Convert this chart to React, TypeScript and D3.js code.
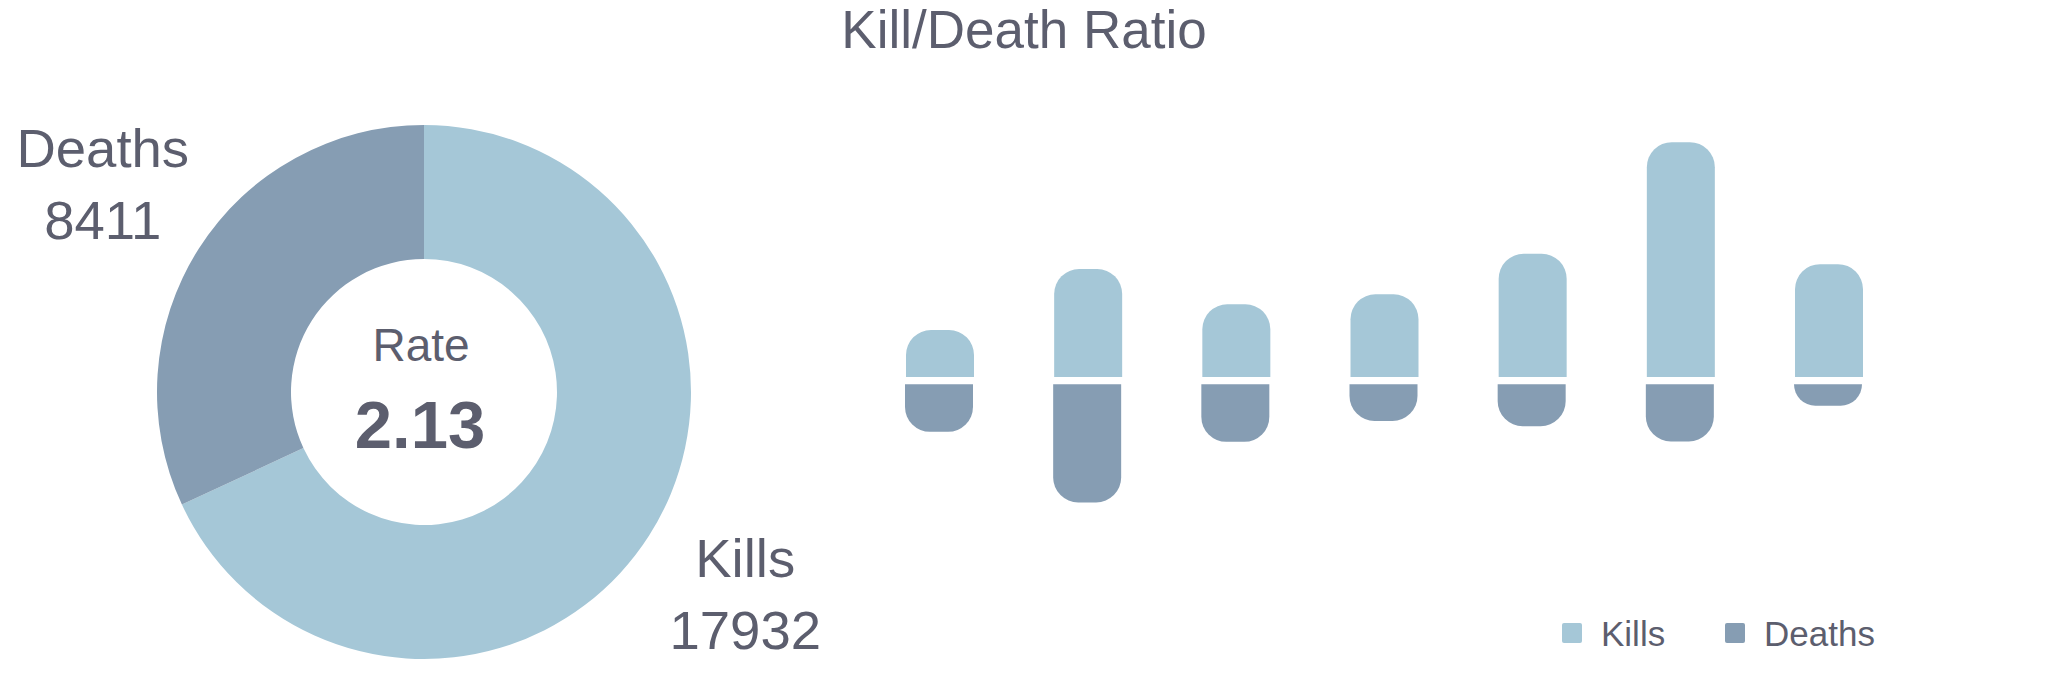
import * as d3 from "d3";
import { useEffect, useRef } from "react";

const seriesNames = ["Kills", "Deaths"];
const seriesColors = ["#a5c7d7", "#869db3"];
const totals = [17932, 8411];
const rateLabel = "Rate";
const rateValue = "2.13";

const matchIds = ["m1", "m2", "m3", "m4", "m5", "m6", "m7"];
const killsPerMatch = [1080, 2480, 1670, 1900, 2830, 5390, 2590];
const deathsPerMatch = [1090, 2710, 1320, 840, 960, 1310, 490];

const textColor = "#5c5e6e";
const font = "'Liberation Sans', Arial, sans-serif";

function barPath(x: number, y: number, w: number, h: number, r: number, roundTop: boolean) {
  const rr = Math.min(r, h, w / 2);
  const p = d3.path();
  if (roundTop) {
    p.moveTo(x, y + h);
    p.lineTo(x, y + rr);
    p.arcTo(x, y, x + rr, y, rr);
    p.lineTo(x + w - rr, y);
    p.arcTo(x + w, y, x + w, y + rr, rr);
    p.lineTo(x + w, y + h);
  } else {
    p.moveTo(x, y);
    p.lineTo(x, y + h - rr);
    p.arcTo(x, y + h, x + rr, y + h, rr);
    p.lineTo(x + w - rr, y + h);
    p.arcTo(x + w, y + h, x + w, y + h - rr, rr);
    p.lineTo(x + w, y);
  }
  p.closePath();
  return p.toString();
}

export default function App() {
  const svgRef = useRef<SVGSVGElement | null>(null);

  useEffect(() => {
    document.body.style.margin = "0";
    if (!svgRef.current) return;
    const width = 2048;
    const height = 682;
    const svg = d3.select(svgRef.current);
    svg.selectAll("*").remove();
    svg.attr("viewBox", `0 0 ${width} ${height}`);

    svg
      .append("text")
      .attr("x", 1024)
      .attr("y", 48)
      .attr("text-anchor", "middle")
      .attr("font-size", 53)
      .attr("fill", textColor)
      .text("Kill/Death Ratio");

    // donut
    const cx = 424;
    const cy = 392;
    const outer = 267;
    const inner = 133;
    const pie = d3.pie<number>().sort(null).value((d) => d);
    const arcs = pie(totals);
    const arc = d3.arc<d3.PieArcDatum<number>>().innerRadius(inner).outerRadius(outer);
    const donut = svg.append("g").attr("transform", `translate(${cx},${cy})`);
    donut
      .selectAll("path")
      .data(arcs)
      .join("path")
      .attr("d", arc)
      .attr("fill", (_, i) => seriesColors[i]);

    const labelR = 381;
    const labels = donut
      .selectAll(".slice-label")
      .data(arcs)
      .join("g")
      .attr("transform", (d) => {
        const a = (d.startAngle + d.endAngle) / 2;
        return `translate(${Math.sin(a) * labelR},${-Math.cos(a) * labelR})`;
      });
    labels
      .append("text")
      .attr("y", -20)
      .attr("text-anchor", "middle")
      .attr("font-size", 54.5)
      .attr("fill", textColor)
      .text((_, i) => seriesNames[i]);
    labels
      .append("text")
      .attr("y", 52)
      .attr("text-anchor", "middle")
      .attr("font-size", 54.5)
      .attr("fill", textColor)
      .text((d) => d.data);

    donut
      .append("text")
      .attr("x", -3)
      .attr("y", -31)
      .attr("text-anchor", "middle")
      .attr("font-size", 46)
      .attr("fill", textColor)
      .text(rateLabel);
    donut
      .append("text")
      .attr("x", -4)
      .attr("y", 56)
      .attr("text-anchor", "middle")
      .attr("font-size", 67)
      .attr("font-weight", "bold")
      .attr("fill", textColor)
      .text(rateValue);

    // bars
    const x = d3.scalePoint<string>().domain(matchIds).range([940, 1829]);
    const barW = 68;
    const base = 380.7;
    const gap = 3.6;
    const len = d3.scaleLinear().domain([0, 5400]).range([0, 235.4]);
    const bars = svg.append("g");
    bars
      .selectAll(".kill")
      .data(killsPerMatch)
      .join("path")
      .attr("d", (v, i) =>
        barPath((x(matchIds[i]) ?? 0) - barW / 2, base - gap - len(v), barW, len(v), 25, true)
      )
      .attr("fill", seriesColors[0]);
    bars
      .selectAll(".death")
      .data(deathsPerMatch)
      .join("path")
      .attr("d", (v, i) =>
        barPath((x(matchIds[i]) ?? 0) - barW / 2 - 1, base + gap, barW, len(v), 25, false)
      )
      .attr("fill", seriesColors[1]);

    // legend
    const legendX = [1562, 1725];
    const legend = svg
      .selectAll(".legend")
      .data(seriesNames)
      .join("g")
      .attr("transform", (_, i) => `translate(${legendX[i]},623)`);
    legend
      .append("rect")
      .attr("width", 20)
      .attr("height", 20)
      .attr("rx", 2)
      .attr("fill", (_, i) => seriesColors[i]);
    legend
      .append("text")
      .attr("x", 39)
      .attr("y", 23)
      .attr("font-size", 35)
      .attr("fill", textColor)
      .text((d) => d);
  }, []);

  return (
    <svg
      ref={svgRef}
      width={2048}
      height={682}
      style={{ display: "block", fontFamily: font, background: "#fff" }}
    />
  );
}
